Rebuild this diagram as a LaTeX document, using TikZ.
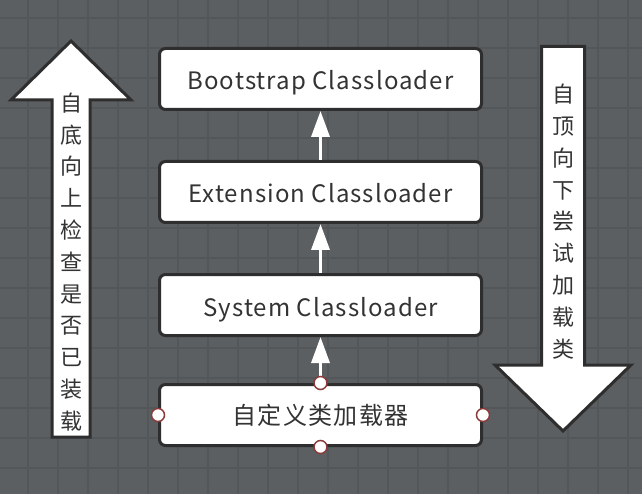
\documentclass[tikz,border=0pt]{standalone}
\usepackage{fontspec}
\setmainfont{Noto Sans CJK SC}
\newfontfamily\boxfont[LetterSpace=4.5]{Noto Sans CJK SC}
\newfontfamily\cjkboxfont[LetterSpace=6]{Noto Sans CJK SC}
\usetikzlibrary{arrows.meta}
\definecolor{bg}{HTML}{5B5F62}
\definecolor{gridc}{HTML}{53575A}
\definecolor{ink}{HTML}{333333}
\definecolor{edge}{HTML}{2E2E2E}
\definecolor{portc}{HTML}{8B3A3A}
\tikzset{
  loaderbox/.style={draw=edge, line width=3pt, fill=white, rounded corners=6pt,
    minimum width=322pt, minimum height=61pt, inner sep=0pt, text=ink,
    text height=22pt, text depth=0pt,
    font=\boxfont\fontsize{24}{28}\selectfont},
  cjkbox/.style={loaderbox, text height=19pt, text depth=0pt,
    font=\cjkboxfont\fontsize{24}{28}\selectfont},
  uparrow/.style={draw=white, line width=3.5pt, -{Triangle[length=26pt,width=18pt]}},
  bigarrow/.style={draw=edge, line width=3pt, fill=white, line join=miter},
  vtext/.style={text=ink, align=center, inner sep=0pt, font=\fontsize{22}{31.8}\selectfont},
  port/.style={circle, draw=portc, line width=1.5pt, fill=white, minimum size=13pt, inner sep=0pt},
}
\begin{document}
\begin{tikzpicture}[x=1pt,y=-1pt]
\fill[bg] (0,0) rectangle (642,494);
\useasboundingbox (0,0) rectangle (642,494);
\foreach \x in {28,58,...,640} \draw[gridc, line width=1.2pt] (\x,0) -- (\x,494);
\foreach \y in {18,48,...,494} \draw[gridc, line width=1.2pt] (0,\y) -- (642,\y);

% big arrows
\draw[bigarrow] (71,41) -- (11,100) -- (52,100) -- (52,437) -- (90,437) -- (90,100) -- (131,100) -- cycle;
\draw[bigarrow] (541.5,46.5) -- (584.5,46.5) -- (584.5,365) -- (631,365) -- (563,431) -- (495,365) -- (541.5,365) -- cycle;
\node[vtext] (lefttext) at (71,262) {自\\底\\向\\上\\检\\查\\是\\否\\已\\装\\载};
\node[vtext] (righttext) at (563,221.5) {自\\顶\\向\\下\\尝\\试\\加\\载\\类};

% boxes
\node[loaderbox] (boot) at (320.5,79) {Bootstrap Classloader};
\node[loaderbox] (ext) at (320.5,192) {Extension Classloader};
\node[loaderbox] (sys) at (320.5,305) {System Classloader};
\node[cjkbox] (cust) at (320.5,415) {自定义类加载器};

\draw[uparrow] (ext.north) -- (boot.south);
\draw[uparrow] (sys.north) -- (ext.south);
\draw[uparrow] (cust.north) -- (sys.south);

\node[port] (pt) at (cust.north) {};
\node[port] (pb) at (cust.south) {};
\node[port] (pl) at (cust.west) {};
\node[port] (pr) at (cust.east) {};
\end{tikzpicture}
\end{document}
